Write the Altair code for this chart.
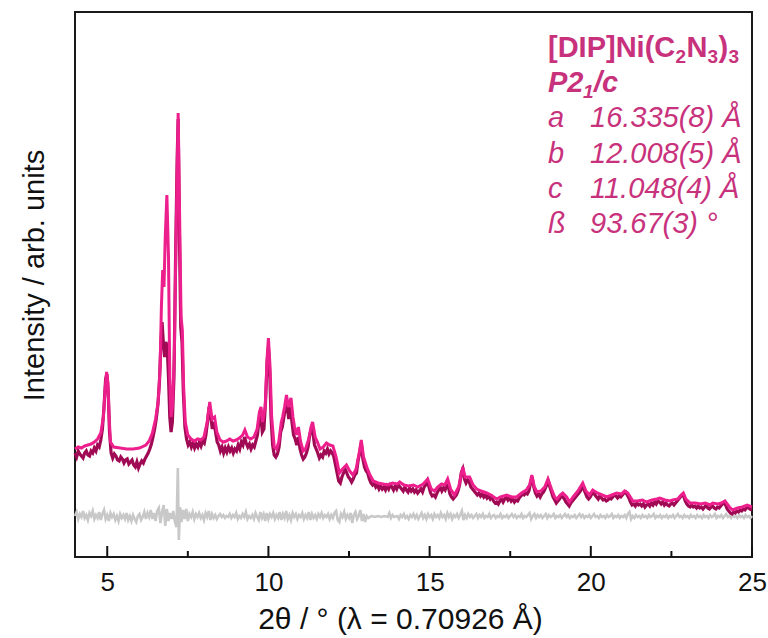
import altair as alt
import pandas as pd

# Powder diffraction profile of [DIP]Ni(C2N3)3: observed, calculated and difference curves.
# Each entry is (2theta in degrees, intensity in arbitrary units).
CALC = [
    (4.00, 108), (4.10, 110), (4.20, 109), (4.30, 111), (4.40, 112), (4.50, 113), (4.60, 115),
    (4.70, 118), (4.80, 124), (4.88, 140), (4.94, 170), (4.98, 185), (5.02, 175), (5.06, 140),
    (5.10, 115), (5.20, 110), (5.40, 109), (5.60, 108), (5.80, 108), (6.00, 109), (6.20, 112),
    (6.30, 116), (6.40, 124), (6.50, 138), (6.58, 155), (6.64, 190), (6.68, 250), (6.72, 287),
    (6.76, 270), (6.80, 320), (6.85, 362), (6.90, 300), (6.94, 180), (6.98, 140), (7.02, 150),
    (7.08, 200), (7.14, 330), (7.20, 444), (7.25, 330), (7.29, 240), (7.33, 227), (7.37, 170),
    (7.42, 135), (7.50, 122), (7.60, 118), (7.70, 116), (7.80, 118), (7.90, 117), (8.00, 120),
    (8.10, 135), (8.18, 155), (8.25, 138), (8.33, 140), (8.40, 125), (8.50, 117), (8.60, 115),
    (8.70, 116), (8.80, 118), (8.90, 116), (9.00, 117), (9.10, 119), (9.20, 122), (9.27, 127),
    (9.35, 120), (9.45, 118), (9.55, 120), (9.65, 128), (9.72, 145), (9.77, 150), (9.82, 135),
    (9.90, 150), (9.96, 200), (10.00, 219), (10.05, 190), (10.10, 140), (10.18, 110), (10.25, 108),
    (10.32, 115), (10.40, 135), (10.44, 140), (10.50, 150), (10.56, 162), (10.62, 150), (10.70, 159),
    (10.76, 140), (10.81, 130), (10.87, 122), (10.93, 130), (11.00, 115), (11.08, 106), (11.15, 108),
    (11.25, 118), (11.32, 130), (11.37, 135), (11.45, 120), (11.52, 115), (11.60, 108), (11.70, 110),
    (11.80, 114), (11.90, 112), (12.00, 111), (12.10, 100), (12.20, 84), (12.30, 88), (12.42, 92),
    (12.52, 86), (12.62, 82), (12.72, 88), (12.82, 105), (12.88, 117), (12.95, 100), (13.05, 90),
    (13.15, 82), (13.25, 76), (13.40, 74), (13.55, 73), (13.70, 72), (13.85, 74), (14.00, 73),
    (14.07, 75), (14.20, 72), (14.35, 71), (14.50, 72), (14.63, 70), (14.80, 73), (14.94, 78),
    (15.05, 68), (15.15, 66), (15.25, 70), (15.37, 73), (15.47, 72), (15.56, 78), (15.65, 68),
    (15.77, 62), (15.90, 70), (16.03, 90), (16.10, 80), (16.24, 80), (16.35, 72), (16.46, 68),
    (16.60, 66), (16.77, 64), (16.90, 62), (17.08, 58), (17.20, 60), (17.39, 62), (17.55, 60),
    (17.70, 60), (17.85, 64), (18.00, 67), (18.10, 72), (18.17, 82), (18.25, 70), (18.33, 65),
    (18.45, 66), (18.57, 70), (18.67, 78), (18.78, 68), (18.88, 60), (18.95, 58), (19.05, 62),
    (19.13, 64), (19.25, 60), (19.34, 55), (19.45, 60), (19.60, 66), (19.75, 74), (19.85, 66),
    (19.96, 62), (20.06, 67), (20.20, 64), (20.35, 62), (20.50, 60), (20.65, 62), (20.80, 64),
    (20.95, 63), (21.05, 66), (21.15, 64), (21.30, 56), (21.45, 56), (21.60, 57), (21.73, 55),
    (21.90, 57), (22.05, 58), (22.14, 59), (22.30, 57), (22.45, 56), (22.54, 57), (22.70, 58),
    (22.80, 62), (22.87, 64), (22.95, 58), (23.08, 54), (23.25, 54), (23.40, 53), (23.55, 54),
    (23.70, 52), (23.78, 54), (23.95, 53), (24.05, 54), (24.16, 56), (24.30, 50), (24.40, 47),
    (24.55, 49), (24.70, 50), (24.85, 52), (25.00, 50),
]

OBS = [
    (4.00, 104), (4.05, 100), (4.10, 106), (4.15, 103), (4.20, 101), (4.25, 99), (4.30, 104),
    (4.35, 106), (4.40, 102), (4.45, 101), (4.50, 106), (4.55, 104), (4.60, 109), (4.65, 106),
    (4.70, 112), (4.75, 110), (4.80, 117), (4.85, 128), (4.90, 150), (4.95, 178), (4.99, 183),
    (5.03, 165), (5.07, 125), (5.12, 104), (5.17, 99), (5.22, 103), (5.27, 101), (5.32, 97),
    (5.37, 96), (5.42, 100), (5.47, 98), (5.52, 94), (5.57, 97), (5.62, 98), (5.67, 93),
    (5.72, 95), (5.77, 97), (5.82, 92), (5.87, 90), (5.92, 95), (5.97, 89), (6.02, 93),
    (6.07, 96), (6.12, 94), (6.17, 98), (6.22, 101), (6.27, 104), (6.32, 108), (6.37, 113),
    (6.42, 120), (6.47, 128), (6.52, 138), (6.57, 152), (6.62, 175), (6.66, 210), (6.70, 235),
    (6.74, 215), (6.78, 200), (6.82, 215), (6.86, 210), (6.90, 180), (6.94, 140), (6.98, 125),
    (7.02, 135), (7.07, 180), (7.12, 300), (7.17, 400), (7.20, 438), (7.24, 320), (7.28, 230),
    (7.32, 215), (7.36, 165), (7.41, 130), (7.46, 118), (7.51, 112), (7.56, 115), (7.61, 110),
    (7.66, 114), (7.71, 109), (7.76, 113), (7.81, 110), (7.86, 115), (7.91, 111), (7.96, 116),
    (8.01, 114), (8.06, 122), (8.11, 135), (8.16, 150), (8.21, 140), (8.26, 128), (8.31, 135),
    (8.36, 125), (8.41, 115), (8.46, 112), (8.51, 106), (8.56, 110), (8.61, 104), (8.66, 109),
    (8.71, 105), (8.76, 110), (8.81, 106), (8.86, 109), (8.91, 104), (8.96, 108), (9.01, 106),
    (9.06, 112), (9.11, 108), (9.16, 115), (9.21, 112), (9.26, 120), (9.31, 114), (9.36, 110),
    (9.41, 113), (9.46, 108), (9.51, 112), (9.56, 110), (9.61, 116), (9.66, 122), (9.71, 138),
    (9.76, 142), (9.81, 125), (9.86, 128), (9.91, 155), (9.96, 195), (10.00, 210), (10.04, 185),
    (10.08, 140), (10.13, 112), (10.18, 102), (10.23, 100), (10.28, 103), (10.33, 110), (10.38, 125),
    (10.43, 130), (10.48, 140), (10.53, 150), (10.58, 152), (10.63, 138), (10.68, 150), (10.73, 135),
    (10.78, 122), (10.83, 118), (10.88, 112), (10.93, 120), (10.98, 108), (11.03, 102), (11.08, 98),
    (11.13, 100), (11.18, 104), (11.23, 110), (11.28, 122), (11.33, 128), (11.38, 124), (11.43, 112),
    (11.48, 108), (11.53, 104), (11.58, 99), (11.63, 102), (11.68, 100), (11.73, 106), (11.78, 104),
    (11.83, 108), (11.88, 103), (11.93, 106), (11.98, 104), (12.03, 100), (12.08, 92), (12.13, 84),
    (12.18, 76), (12.23, 74), (12.28, 80), (12.33, 84), (12.38, 88), (12.43, 84), (12.48, 80),
    (12.53, 78), (12.58, 75), (12.63, 78), (12.68, 82), (12.73, 84), (12.78, 96), (12.83, 104),
    (12.88, 114), (12.93, 98), (12.98, 90), (13.03, 86), (13.08, 84), (13.13, 78), (13.18, 74),
    (13.23, 72), (13.28, 74), (13.33, 70), (13.38, 72), (13.43, 68), (13.48, 71), (13.53, 68),
    (13.58, 70), (13.63, 67), (13.68, 71), (13.73, 68), (13.78, 72), (13.83, 70), (13.88, 67),
    (13.93, 71), (13.98, 68), (14.03, 72), (14.08, 70), (14.13, 68), (14.18, 66), (14.23, 70),
    (14.28, 67), (14.33, 65), (14.38, 69), (14.43, 66), (14.48, 68), (14.53, 65), (14.58, 67),
    (14.63, 64), (14.68, 66), (14.73, 68), (14.78, 65), (14.83, 70), (14.88, 72), (14.93, 76),
    (14.98, 70), (15.03, 64), (15.08, 61), (15.13, 62), (15.18, 60), (15.23, 64), (15.28, 67),
    (15.33, 70), (15.38, 66), (15.43, 69), (15.48, 67), (15.53, 72), (15.58, 70), (15.63, 63),
    (15.68, 60), (15.73, 58), (15.78, 60), (15.83, 62), (15.88, 66), (15.93, 72), (15.98, 84),
    (16.03, 88), (16.08, 78), (16.13, 74), (16.18, 77), (16.23, 75), (16.28, 70), (16.33, 68),
    (16.38, 66), (16.43, 64), (16.48, 62), (16.53, 64), (16.58, 61), (16.63, 63), (16.68, 60),
    (16.73, 62), (16.78, 59), (16.83, 61), (16.88, 58), (16.93, 60), (16.98, 56), (17.03, 54),
    (17.08, 55), (17.13, 53), (17.18, 56), (17.23, 58), (17.28, 55), (17.33, 58), (17.38, 60),
    (17.43, 57), (17.48, 59), (17.53, 56), (17.58, 58), (17.63, 55), (17.68, 57), (17.73, 56),
    (17.78, 59), (17.83, 61), (17.88, 63), (17.93, 62), (17.98, 64), (18.03, 63), (18.08, 66),
    (18.13, 74), (18.18, 80), (18.23, 70), (18.28, 64), (18.33, 61), (18.38, 63), (18.43, 60),
    (18.48, 63), (18.53, 65), (18.58, 68), (18.63, 72), (18.68, 76), (18.73, 70), (18.78, 65),
    (18.83, 60), (18.88, 57), (18.93, 54), (18.98, 56), (19.03, 58), (19.08, 61), (19.13, 60),
    (19.18, 58), (19.23, 55), (19.28, 53), (19.33, 51), (19.38, 54), (19.43, 56), (19.48, 58),
    (19.53, 60), (19.58, 62), (19.63, 64), (19.68, 66), (19.73, 70), (19.78, 68), (19.83, 64),
    (19.88, 60), (19.93, 58), (19.98, 60), (20.03, 63), (20.08, 65), (20.13, 62), (20.18, 60),
    (20.23, 58), (20.28, 61), (20.33, 59), (20.38, 57), (20.43, 58), (20.48, 56), (20.53, 57),
    (20.58, 59), (20.63, 58), (20.68, 60), (20.73, 62), (20.78, 61), (20.83, 59), (20.88, 61),
    (20.93, 60), (20.98, 62), (21.03, 64), (21.08, 65), (21.13, 62), (21.18, 59), (21.23, 55),
    (21.28, 52), (21.33, 53), (21.38, 51), (21.43, 54), (21.48, 52), (21.53, 53), (21.58, 51),
    (21.63, 53), (21.68, 50), (21.73, 52), (21.78, 53), (21.83, 51), (21.88, 54), (21.93, 52),
    (21.98, 55), (22.03, 53), (22.08, 56), (22.13, 55), (22.18, 53), (22.23, 55), (22.28, 52),
    (22.33, 54), (22.38, 52), (22.43, 51), (22.48, 53), (22.53, 54), (22.58, 52), (22.63, 54),
    (22.68, 56), (22.73, 58), (22.78, 60), (22.83, 62), (22.88, 61), (22.93, 56), (22.98, 53),
    (23.03, 51), (23.08, 50), (23.13, 52), (23.18, 50), (23.23, 51), (23.28, 49), (23.33, 51),
    (23.38, 49), (23.43, 50), (23.48, 48), (23.53, 50), (23.58, 52), (23.63, 49), (23.68, 48),
    (23.73, 50), (23.78, 51), (23.83, 49), (23.88, 48), (23.93, 50), (23.98, 49), (24.03, 51),
    (24.08, 53), (24.13, 54), (24.18, 52), (24.23, 48), (24.28, 46), (24.33, 44), (24.38, 43),
    (24.43, 45), (24.48, 44), (24.53, 46), (24.58, 45), (24.63, 47), (24.68, 46), (24.73, 48),
    (24.78, 47), (24.83, 49), (24.88, 50), (24.93, 48), (25.00, 47),
]

DIFF = [
    (4.00, 41), (4.05, 45), (4.10, 38), (4.15, 43), (4.20, 40), (4.25, 46), (4.30, 39), (4.35, 42),
    (4.40, 37), (4.45, 44), (4.50, 41), (4.55, 46), (4.60, 38), (4.65, 42), (4.70, 39), (4.75, 45),
    (4.80, 37), (4.85, 43), (4.90, 47), (4.95, 38), (5.00, 42), (5.05, 36), (5.10, 44), (5.15, 40),
    (5.20, 43), (5.25, 37), (5.30, 41), (5.35, 36), (5.40, 43), (5.45, 39), (5.50, 42), (5.55, 38),
    (5.60, 44), (5.65, 37), (5.70, 41), (5.75, 36), (5.80, 42), (5.85, 38), (5.90, 35), (5.95, 41),
    (6.00, 43), (6.05, 37), (6.10, 40), (6.15, 45), (6.20, 38), (6.25, 44), (6.30, 40), (6.35, 47),
    (6.40, 38), (6.45, 44), (6.50, 36), (6.55, 46), (6.60, 49), (6.65, 34), (6.70, 45), (6.75, 52),
    (6.80, 31), (6.85, 48), (6.90, 36), (6.95, 44), (7.00, 38), (7.05, 46), (7.10, 35), (7.15, 30),
    (7.19, 89), (7.22, 17), (7.26, 50), (7.30, 35), (7.35, 47), (7.40, 38), (7.45, 48), (7.50, 36),
    (7.55, 43), (7.60, 40), (7.65, 45), (7.70, 38), (7.75, 43), (7.80, 40), (7.85, 44), (7.90, 39),
    (7.95, 42), (8.00, 37), (8.05, 44), (8.10, 40), (8.15, 46), (8.20, 37), (8.25, 43), (8.30, 39),
    (8.35, 42), (8.40, 38), (8.45, 41), (8.50, 43), (8.55, 40), (8.60, 42), (8.65, 39), (8.70, 41),
    (8.75, 40), (8.80, 43), (8.85, 39), (8.90, 42), (8.95, 40), (9.00, 44), (9.05, 38), (9.10, 41),
    (9.15, 39), (9.20, 43), (9.25, 40), (9.30, 45), (9.35, 38), (9.40, 41), (9.45, 39), (9.50, 42),
    (9.55, 38), (9.60, 44), (9.65, 40), (9.70, 37), (9.75, 45), (9.80, 39), (9.85, 43), (9.90, 36),
    (9.95, 44), (10.00, 38), (10.05, 43), (10.10, 40), (10.15, 44), (10.20, 38), (10.25, 42),
    (10.30, 39), (10.35, 45), (10.40, 37), (10.45, 43), (10.50, 39), (10.55, 46), (10.60, 38),
    (10.65, 42), (10.70, 37), (10.75, 44), (10.80, 40), (10.85, 43), (10.90, 38), (10.95, 42),
    (11.00, 40), (11.05, 44), (11.10, 38), (11.15, 42), (11.20, 39), (11.25, 45), (11.30, 37),
    (11.35, 43), (11.40, 39), (11.45, 42), (11.50, 38), (11.55, 43), (11.60, 40), (11.65, 44),
    (11.70, 39), (11.75, 42), (11.80, 40), (11.85, 43), (11.90, 38), (11.95, 42), (12.00, 39),
    (12.05, 44), (12.10, 46), (12.15, 37), (12.20, 35), (12.25, 43), (12.30, 40), (12.35, 45),
    (12.40, 38), (12.45, 42), (12.50, 39), (12.55, 44), (12.60, 34), (12.65, 42), (12.70, 45),
    (12.75, 38), (12.80, 41), (12.85, 47), (12.90, 36), (12.95, 43), (13.00, 35), (13.05, 41),
    (13.10, 39), (13.20, 41), (13.30, 40), (13.40, 41), (13.50, 40), (13.60, 41), (13.70, 40),
    (13.75, 44), (13.80, 39), (13.85, 42), (13.90, 40), (14.00, 41), (14.05, 38), (14.10, 42),
    (14.15, 40), (14.20, 43), (14.25, 39), (14.30, 41), (14.35, 38), (14.40, 42), (14.45, 40),
    (14.50, 43), (14.55, 39), (14.60, 42), (14.65, 38), (14.70, 41), (14.75, 44), (14.80, 39),
    (14.85, 42), (14.90, 38), (14.95, 43), (15.00, 40), (15.05, 42), (15.10, 38), (15.15, 43),
    (15.20, 40), (15.25, 42), (15.30, 39), (15.35, 44), (15.40, 40), (15.45, 42), (15.50, 38),
    (15.55, 44), (15.60, 40), (15.65, 43), (15.70, 38), (15.75, 42), (15.80, 40), (15.85, 43),
    (15.90, 39), (15.95, 42), (16.00, 46), (16.05, 37), (16.10, 42), (16.15, 39), (16.20, 43),
    (16.25, 40), (16.30, 42), (16.35, 39), (16.40, 41), (16.45, 43), (16.50, 39), (16.55, 42),
    (16.60, 40), (16.65, 43), (16.70, 39), (16.75, 41), (16.80, 40), (16.85, 43), (16.90, 39),
    (16.95, 41), (17.00, 42), (17.05, 39), (17.10, 41), (17.15, 40), (17.20, 43), (17.25, 39),
    (17.30, 41), (17.35, 40), (17.40, 42), (17.45, 39), (17.50, 41), (17.55, 43), (17.60, 40),
    (17.65, 42), (17.70, 39), (17.75, 41), (17.80, 40), (17.85, 43), (17.90, 39), (17.95, 41),
    (18.00, 40), (18.05, 42), (18.10, 44), (18.15, 38), (18.20, 41), (18.25, 43), (18.30, 39),
    (18.35, 42), (18.40, 40), (18.45, 42), (18.50, 39), (18.55, 41), (18.60, 43), (18.65, 39),
    (18.70, 42), (18.75, 40), (18.80, 41), (18.85, 43), (18.90, 39), (18.95, 41), (19.00, 40),
    (19.05, 42), (19.10, 39), (19.15, 41), (19.20, 43), (19.25, 40), (19.30, 42), (19.35, 39),
    (19.40, 41), (19.45, 40), (19.50, 42), (19.55, 39), (19.60, 41), (19.65, 43), (19.70, 40),
    (19.75, 42), (19.80, 39), (19.85, 41), (19.90, 40), (19.95, 42), (20.00, 39), (20.05, 41),
    (20.10, 43), (20.15, 40), (20.20, 41), (20.25, 39), (20.30, 42), (20.35, 40), (20.40, 41),
    (20.45, 39), (20.50, 42), (20.55, 40), (20.60, 41), (20.65, 43), (20.70, 39), (20.75, 41),
    (20.80, 40), (20.85, 42), (20.90, 39), (20.95, 41), (21.00, 40), (21.05, 42), (21.10, 39),
    (21.15, 43), (21.20, 45), (21.25, 38), (21.30, 41), (21.35, 39), (21.40, 42), (21.45, 40),
    (21.50, 41), (21.55, 39), (21.60, 42), (21.65, 40), (21.70, 41), (21.75, 39), (21.80, 42),
    (21.85, 40), (21.90, 41), (21.95, 43), (22.00, 39), (22.05, 41), (22.10, 40), (22.15, 42),
    (22.20, 39), (22.25, 41), (22.30, 40), (22.35, 42), (22.40, 39), (22.45, 41), (22.50, 40),
    (22.55, 42), (22.60, 39), (22.65, 41), (22.70, 43), (22.75, 40), (22.80, 41), (22.85, 39),
    (22.90, 42), (22.95, 40), (23.00, 41), (23.05, 39), (23.10, 42), (23.15, 40), (23.20, 41),
    (23.25, 39), (23.30, 42), (23.35, 40), (23.40, 41), (23.45, 39), (23.50, 42), (23.55, 40),
    (23.60, 41), (23.65, 39), (23.70, 42), (23.75, 40), (23.80, 41), (23.85, 43), (23.90, 39),
    (23.95, 41), (24.00, 40), (24.05, 42), (24.10, 39), (24.15, 41), (24.20, 43), (24.25, 40),
    (24.30, 41), (24.35, 39), (24.40, 42), (24.45, 40), (24.50, 41), (24.55, 39), (24.60, 42),
    (24.65, 40), (24.70, 41), (24.75, 39), (24.80, 42), (24.85, 40), (24.90, 41), (24.95, 39),
    (25.00, 41),
]

MAJOR_TICKS = [5, 10, 15, 20, 25]
MINOR_TICKS = [7.5, 12.5, 17.5, 22.5]

FONT = "Liberation Sans"
C_OBS = "#a00a55"
C_CALC = "#ec1f8c"
C_DIFF = "#c8c8c8"
C_TEXT = "#c8327c"

W, H = 677, 545

calc_df = pd.DataFrame(CALC, columns=["tth", "I"])
obs_df = pd.DataFrame(OBS, columns=["tth", "I"])
diff_df = pd.DataFrame(DIFF, columns=["tth", "I"])

x_scale = alt.Scale(domain=[4, 25], nice=False, zero=False)
y_scale = alt.Scale(domain=[0, 545], nice=False, zero=False)

x_enc = alt.X(
    "tth:Q",
    scale=x_scale,
    axis=alt.Axis(
        values=MAJOR_TICKS, format="d", grid=False, domain=False, ticks=False,
        labelFont=FONT, labelFontSize=26, labelColor="#111", labelPadding=12,
        labelFlush=False,
        title="2θ / ° (λ = 0.70926 Å)", titleFont=FONT, titleFontSize=30,
        titleFontWeight="normal", titleColor="#111", titlePadding=9, titleX=325,
    ),
)
y_enc = alt.Y(
    "I:Q",
    scale=y_scale,
    axis=alt.Axis(
        labels=False, ticks=False, domain=False, grid=False,
        title="Intensity / arb. units", titleFont=FONT, titleFontSize=29,
        titleFontWeight="normal", titleColor="#111", titlePadding=26, titleY=263,
    ),
)

diff_line = alt.Chart(diff_df).mark_line(color=C_DIFF, strokeWidth=2.6).encode(x=x_enc, y=y_enc)
obs_line = alt.Chart(obs_df).mark_line(color=C_OBS, strokeWidth=3.2).encode(x=x_enc, y=y_enc)
calc_line = alt.Chart(calc_df).mark_line(color=C_CALC, strokeWidth=3).encode(x=x_enc, y=y_enc)

# inward tick marks along the bottom frame
major = alt.Chart(pd.DataFrame({"tth": MAJOR_TICKS})).mark_rule(color="#111", strokeWidth=2).encode(
    x=x_enc, y=alt.value(H), y2=alt.value(H - 11)
)
minor = alt.Chart(pd.DataFrame({"tth": MINOR_TICKS})).mark_rule(color="#111", strokeWidth=2).encode(
    x=x_enc, y=alt.value(H), y2=alt.value(H - 6)
)

one = pd.DataFrame({"k": [0]})


def label(text, px, py, size=29, weight="normal", style="normal"):
    return alt.Chart(one).mark_text(
        align="left", baseline="alphabetic", font=FONT, fontSize=size,
        fontWeight=weight, fontStyle=style, color=C_TEXT,
    ).encode(x=alt.value(px), y=alt.value(py), text=alt.value(text))


X0 = 473      # left edge of the annotation block
XV = 515      # left edge of the lattice values
L1 = 45
SUB = 19
annot = [
    # [DIP]Ni(C2N3)3
    label("[DIP]Ni(C", X0, L1, weight="bold"),
    label("2", X0 + 127.5, L1 + 6, size=SUB, weight="bold"),
    label("N", X0 + 138.5, L1, weight="bold"),
    label("3", X0 + 159.5, L1 + 6, size=SUB, weight="bold"),
    label(")", X0 + 170.5, L1, weight="bold"),
    label("3", X0 + 180.5, L1 + 6, size=SUB, weight="bold"),
    # P2_1/c
    label("P2", X0, 80, weight="bold", style="italic"),
    label("1", X0 + 35, 86, size=SUB, weight="bold", style="italic"),
    label("/c", X0 + 46, 80, weight="bold", style="italic"),
    # lattice parameters
    label("a", X0, 115, style="italic"),
    label("16.335(8) Å", XV, 115, style="italic"),
    label("b", X0, 151, style="italic"),
    label("12.008(5) Å", XV, 151, style="italic"),
    label("c", X0, 186, style="italic"),
    label("11.048(4) Å", XV, 186, style="italic"),
    label("ß", X0, 221, style="italic"),
    label("93.67(3) °", XV, 221, style="italic"),
]

chart = alt.layer(diff_line, obs_line, calc_line, major, minor, *annot).properties(
    width=W, height=H,
    padding={"left": 75, "top": 12, "right": 16, "bottom": 81},
    autosize=alt.AutoSizeParams(type="none"),
).configure_view(stroke="#1a1a1a", strokeWidth=2)

chart.save("out.html", embed_options={"renderer": "svg", "actions": False})
